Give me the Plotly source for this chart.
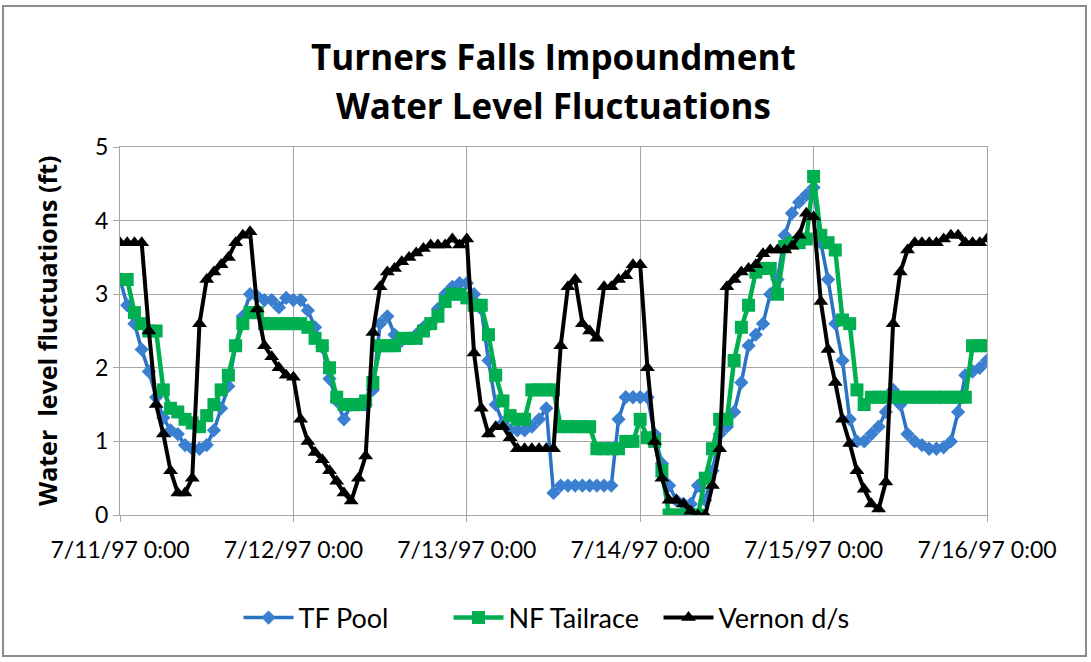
import pandas as pd
import plotly.graph_objects as go

# hourly readings, 7/11/97 0:00 .. 7/16/97 0:00
times = pd.date_range('1997-07-11 00:00', '1997-07-16 00:00', freq='h')

tf_pool = [
    3.2, 2.85, 2.6, 2.25, 1.95, 1.6, 1.32, 1.15, 1.1, 0.95,
    0.9, 0.9, 0.95, 1.15, 1.45, 1.75, 2.3, 2.7, 3.0, 2.97,
    2.92, 2.92, 2.82, 2.95, 2.92, 2.92, 2.78, 2.55, 2.28, 1.85,
    1.55, 1.3, 1.5, 1.5, 1.5, 1.7, 2.6, 2.7, 2.45, 2.37,
    2.4, 2.45, 2.55, 2.6, 2.8, 3.0, 3.1, 3.15, 3.15, 3.0,
    2.8, 2.1, 1.5, 1.25, 1.15, 1.15, 1.15, 1.2, 1.3, 1.45,
    0.3, 0.4, 0.4, 0.4, 0.4, 0.4, 0.4, 0.4, 0.4, 1.3,
    1.6, 1.6, 1.6, 1.6, 1.1, 0.7, 0.4, 0.2, 0.15, 0.15,
    0.4, 0.2, 0.6, 1.1, 1.2, 1.4, 1.8, 2.3, 2.45, 2.6,
    3.0, 3.2, 3.8, 4.1, 4.25, 4.35, 4.45, 3.7, 3.2, 2.6,
    2.1, 1.3, 1.0, 1.0, 1.1, 1.2, 1.4, 1.7, 1.5, 1.1,
    1.0, 0.95, 0.9, 0.9, 0.92, 1.0, 1.4, 1.9, 1.95, 2.0, 2.1,
]

nf_tailrace = [
    3.2, 3.2, 2.75, 2.6, 2.5, 2.5, 1.7, 1.45, 1.4, 1.3,
    1.25, 1.2, 1.35, 1.5, 1.7, 1.9, 2.3, 2.6, 2.75, 2.75,
    2.6, 2.6, 2.6, 2.6, 2.6, 2.6, 2.55, 2.4, 2.3, 2.0,
    1.6, 1.5, 1.5, 1.5, 1.55, 1.8, 2.3, 2.3, 2.3, 2.4,
    2.4, 2.4, 2.5, 2.6, 2.7, 2.9, 3.0, 3.0, 2.95, 2.85,
    2.85, 2.45, 1.9, 1.55, 1.35, 1.3, 1.3, 1.7, 1.7, 1.7,
    1.7, 1.2, 1.2, 1.2, 1.2, 1.2, 0.9, 0.9, 0.9, 0.9,
    1.0, 1.0, 1.3, 1.05, 1.0, 0.6, 0.0, 0.0, 0.0, 0.0,
    0.0, 0.5, 0.9, 1.3, 1.3, 2.1, 2.55, 2.85, 3.3, 3.35,
    3.35, 3.0, 3.65, 3.7, 3.7, 3.75, 4.6, 3.8, 3.7, 3.6,
    2.65, 2.6, 1.7, 1.5, 1.6, 1.6, 1.6, 1.6, 1.6, 1.6,
    1.6, 1.6, 1.6, 1.6, 1.6, 1.6, 1.6, 1.6, 2.3, 2.3, 2.3,
]

vernon_ds = [
    3.7, 3.7, 3.7, 3.7, 2.5, 1.5, 1.1, 0.6, 0.3, 0.3,
    0.5, 2.6, 3.2, 3.3, 3.4, 3.5, 3.7, 3.8, 3.85, 2.8,
    2.3, 2.15, 2.0, 1.9, 1.87, 1.3, 1.0, 0.85, 0.75, 0.6,
    0.46, 0.3, 0.19, 0.5, 0.8, 2.48, 3.1, 3.3, 3.35, 3.44,
    3.5, 3.56, 3.62, 3.67, 3.67, 3.67, 3.75, 3.67, 3.75, 2.2,
    1.45, 1.1, 1.2, 1.2, 1.05, 0.9, 0.9, 0.9, 0.9, 0.9,
    0.9, 2.3, 3.1, 3.2, 2.6, 2.5, 2.4, 3.1, 3.1, 3.2,
    3.25, 3.4, 3.4, 2.0, 1.0, 0.5, 0.2, 0.2, 0.15, 0.05,
    0.0, 0.0, 0.4, 0.9, 3.1, 3.2, 3.3, 3.35, 3.4, 3.55,
    3.6, 3.6, 3.6, 3.65, 3.8, 4.1, 4.05, 2.9, 2.25, 1.8,
    1.3, 0.97, 0.6, 0.35, 0.15, 0.08, 0.45, 2.6, 3.3, 3.6,
    3.7, 3.7, 3.7, 3.7, 3.75, 3.8, 3.8, 3.7, 3.7, 3.7, 3.75,
]

tick_dates = pd.date_range('1997-07-11', '1997-07-16', freq='D')
tick_labels = ['7/11/97 0:00', '7/12/97 0:00', '7/13/97 0:00',
               '7/14/97 0:00', '7/15/97 0:00', '7/16/97 0:00']

FONT = 'Lato'
GRID = '#a6a6a6'

fig = go.Figure()

fig.add_trace(go.Scatter(
    x=times, y=tf_pool, name='TF Pool', mode='lines+markers',
    line=dict(color='#2a72c4', width=3.5),
    marker=dict(symbol='diamond', size=11, color='#3a7fd0')
))
fig.add_trace(go.Scatter(
    x=times, y=nf_tailrace, name='NF Tailrace', mode='lines+markers',
    line=dict(color='#00b050', width=4.5),
    marker=dict(symbol='square', size=13, color='#00b050')
))
fig.add_trace(go.Scatter(
    x=times, y=vernon_ds, name='Vernon d/s', mode='lines+markers',
    line=dict(color='black', width=4),
    marker=dict(symbol='triangle-up', size=13, color='black')
))

fig.update_layout(
    width=1091,
    height=662,
    margin=dict(l=120, r=104, t=147, b=147),
    paper_bgcolor='white',
    plot_bgcolor='white',
    font=dict(family=FONT, color='black'),
    showlegend=True,
    legend=dict(
        orientation='h',
        x=0.5, xanchor='center',
        y=-0.28, yanchor='middle',
        font=dict(size=27, family=FONT),
        itemwidth=50,
        entrywidth=145,
        tracegroupgap=0
    ),
    xaxis=dict(
        range=[tick_dates[0], tick_dates[-1]],
        tickvals=tick_dates,
        ticktext=tick_labels,
        tickfont=dict(size=23, family=FONT),
        ticklabelstandoff=8,
        showgrid=True, gridcolor=GRID, gridwidth=1,
        showline=True, linecolor=GRID, linewidth=1, mirror=True,
        ticks='outside', ticklen=6, tickcolor=GRID,
        zeroline=False
    ),
    yaxis=dict(
        range=[0, 5],
        dtick=1,
        tickfont=dict(size=23, family=FONT),
        showgrid=True, gridcolor=GRID, gridwidth=1,
        showline=True, linecolor=GRID, linewidth=1, mirror=True,
        ticks='outside', ticklen=6, tickcolor=GRID,
        zeroline=False
    ),
)

# title, two lines
fig.add_annotation(
    text='<b>Turners Falls Impoundment</b>', xref='paper', yref='paper',
    x=0.5, y=(515 - 57) / 368, xanchor='center', yanchor='middle',
    showarrow=False, font=dict(size=35, family='Open Sans')
)
fig.add_annotation(
    text='<b>Water Level Fluctuations</b>', xref='paper', yref='paper',
    x=0.5, y=(515 - 105) / 368, xanchor='center', yanchor='middle',
    showarrow=False, font=dict(size=35, family='Open Sans')
)

# y axis title
fig.add_annotation(
    text='<b>Water  level fluctuations (ft)</b>', xref='paper', yref='paper',
    x=(47 - 120) / 867, y=0.5, xanchor='center', yanchor='middle',
    textangle=-90, showarrow=False, font=dict(size=25, family='Open Sans')
)

# chart border
fig.add_shape(
    type='rect', xref='paper', yref='paper',
    x0=(3 - 120) / 867, x1=(1086 - 120) / 867,
    y0=(515 - 656) / 368, y1=(515 - 6) / 368,
    line=dict(color='#8c8c8c', width=2), fillcolor='rgba(0,0,0,0)'
)

fig.write_html('out.html', config={'displayModeBar': False},
               post_script="document.body.style.margin='0px';")
